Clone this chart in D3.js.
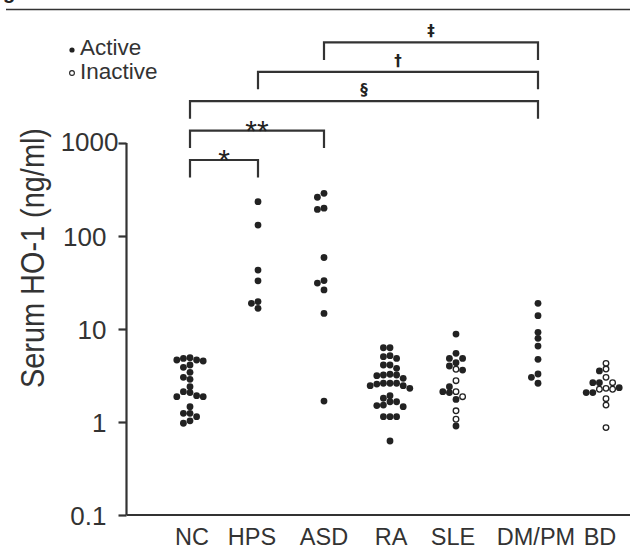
<!DOCTYPE html>
<html>
<head>
<meta charset="utf-8">
<script src="https://cdn.jsdelivr.net/npm/d3@7"></script>
<style>
  body { margin: 0; background: #fff; }
  svg { display: block; font-family: "Liberation Sans", Arial, sans-serif; }
  .axis path, .axis line { stroke: #333; stroke-width: 2.2; }
  .axis text { fill: #333; }
</style>
</head>
<body>
<div id="chart"></div>
<script>
//begin: data
var groups = ["NC", "HPS", "ASD", "RA", "SLE", "DM/PM", "BD"];
var yTicks = [0.1, 1, 10, 100, 1000];

var ncActive = [4.91, 4.83, 4.64, 4.64, 4.53, 4.10, 3.87, 3.42, 3.02, 2.88, 2.40, 2.12, 2.07, 1.92, 1.87, 1.87, 1.46, 1.24, 1.24, 1.14, 1.03, 0.97];
var hpsActive = [234, 131, 43, 33, 19.7, 18.9, 16.7];
var asdActive = [288, 261, 199, 193, 58.7, 33.2, 31.2, 26.3, 14.7, 1.68];
var raActive = [6.29, 6.29, 5.16, 5.04, 4.83, 4.10, 4.10, 3.78, 3.26, 3.20, 3.20, 3.15, 2.95, 2.61, 2.61, 2.61, 2.56, 2.46, 2.46, 2.30, 1.92, 1.80, 1.65, 1.65, 1.52, 1.50, 1.46, 1.14, 1.14, 1.14, 0.625];
var sleActive = [8.83, 5.47, 4.83, 4.83, 4.34, 4.0, 3.62, 2.40, 2.12, 2.07, 1.75, 0.906];
var sleInactive = [3.69, 2.78, 2.12, 1.87, 1.32, 1.07];
var dmpmActive = [18.9, 13.9, 9.2, 7.94, 6.56, 4.72, 3.28, 3.02, 2.61];
var bdActive = [3.54, 2.65, 2.65, 2.34, 2.07, 2.07];
var bdInactive = [4.27, 3.71, 3.02, 2.65, 2.30, 2.25, 2.25, 1.78, 1.52, 0.87];

var comparisons = [
  ["NC", "HPS", "*"],
  ["NC", "ASD", "**"],
  ["NC", "DM/PM", "\u00a7"],
  ["HPS", "DM/PM", "\u2020"],
  ["ASD", "DM/PM", "\u2021"]
];
//end: data

//begin: layout conf.
var width = 630, height = 548;
var axisX = 126.5, baseY = 515, topY = 143;
var dotR = 3.4, step = 6.6, minD = 5.6;
var groupCenters = [190, 258, 324, 390, 456, 538, 606];
var labelCenters = [192, 252, 324, 391, 453, 536, 600];
var bracketTop = 160, bracketGap = 29.4, bracketDrop = 17.5;
//end: layout conf.

var samples = [
  { group: "NC", active: ncActive, inactive: [] },
  { group: "HPS", active: hpsActive, inactive: [] },
  { group: "ASD", active: asdActive, inactive: [] },
  { group: "RA", active: raActive, inactive: [] },
  { group: "SLE", active: sleActive, inactive: sleInactive },
  { group: "DM/PM", active: dmpmActive, inactive: [] },
  { group: "BD", active: bdActive, inactive: bdInactive }
];

var x = d3.scaleOrdinal().domain(groups).range(groupCenters);
var xLabel = d3.scaleOrdinal().domain(groups).range(labelCenters);
var y = d3.scaleLog().domain([0.1, 1000]).range([baseY, topY]);

var svg = d3.select("#chart").append("svg")
  .attr("width", width)
  .attr("height", height);

svg.append("rect").attr("width", width).attr("height", height).attr("fill", "#fff");

// cropped figure header
svg.append("text")
  .attr("x", 3).attr("y", -1)
  .style("font-size", "20px").style("font-weight", "bold")
  .attr("fill", "#222")
  .text("g");
svg.append("line")
  .attr("x1", 6).attr("x2", width)
  .attr("y1", 9.5).attr("y2", 9.5)
  .attr("stroke", "#333").attr("stroke-width", 1.6);

// legend
var legend = svg.append("g").attr("fill", "#333");
legend.append("circle").attr("cx", 72).attr("cy", 50).attr("r", 2.6).attr("fill", "#222");
legend.append("text").attr("x", 80).attr("y", 55).style("font-size", "22.5px").text("Active");
legend.append("circle").attr("cx", 72).attr("cy", 73).attr("r", 2.4)
  .attr("fill", "#fff").attr("stroke", "#222").attr("stroke-width", 1.1);
legend.append("text").attr("x", 80).attr("y", 79).style("font-size", "22.5px").text("Inactive");

// y axis
var yAxis = svg.append("g")
  .attr("class", "axis")
  .attr("transform", "translate(" + axisX + ",0)")
  .call(d3.axisLeft(y).tickValues(yTicks).tickSize(8).tickPadding(12)
    .tickFormat(function (d) { return String(d); }));
yAxis.select(".domain").attr("d", "M0," + topY + "V" + baseY);
yAxis.selectAll("text").style("font-size", "26px").attr("dy", "0.36em");
yAxis.selectAll(".tick").filter(function (d) { return d === 1000; })
  .select("text").attr("x", -8).attr("dy", "0.28em");

// x axis
var xAxis = svg.append("g")
  .attr("class", "axis")
  .attr("transform", "translate(0," + baseY + ")");
xAxis.append("line")
  .attr("x1", axisX).attr("x2", width)
  .attr("stroke", "#333").attr("stroke-width", 2.2);
xAxis.selectAll("text.cat")
  .data(groups)
  .enter().append("text")
  .attr("class", "cat")
  .attr("x", function (d) { return xLabel(d); })
  .attr("y", 30)
  .attr("text-anchor", "middle")
  .style("font-size", "23.5px")
  .text(function (d) { return d; });

// y title
svg.append("text")
  .attr("transform", "translate(44,258) rotate(-90)")
  .attr("text-anchor", "middle")
  .attr("fill", "#333")
  .attr("textLength", 260)
  .attr("lengthAdjust", "spacingAndGlyphs")
  .style("font-size", "34px")
  .text("Serum HO-1 (ng/ml)");

// beeswarm
function dodge(list) {
  var placed = [];
  var prefer = { inactive: [0, 1, -1, 2, -2, 3, -3, 4, -4, 5, -5],
                 active: [0, -1, 1, -2, 2, -3, 3, -4, 4, -5, 5] };
  list.forEach(function (p) {
    var py = y(p.value);
    var ks = prefer[p.status];
    for (var i = 0; i < ks.length; i++) {
      var px = ks[i] * step;
      var free = placed.every(function (q) {
        return (q.dx - px) * (q.dx - px) + (q.y - py) * (q.y - py) >= minD * minD;
      });
      if (free || i === ks.length - 1) {
        placed.push({ group: p.group, status: p.status, value: p.value, dx: px, y: py });
        break;
      }
    }
  });
  return placed;
}

var dots = [];
samples.forEach(function (s) {
  var inact = s.inactive.map(function (v) { return { group: s.group, status: "inactive", value: v }; })
    .sort(function (a, b) { return b.value - a.value; });
  var act = s.active.map(function (v) { return { group: s.group, status: "active", value: v }; })
    .sort(function (a, b) { return b.value - a.value; });
  dots = dots.concat(dodge(inact.concat(act)));
});

svg.append("g")
  .selectAll("circle.dot")
  .data(dots)
  .enter().append("circle")
  .attr("class", "dot")
  .attr("cx", function (d) { return x(d.group) + d.dx; })
  .attr("cy", function (d) { return d.y; })
  .attr("r", function (d) { return d.status === "active" ? dotR : dotR - 0.6; })
  .attr("fill", function (d) { return d.status === "active" ? "#222" : "#fff"; })
  .attr("stroke", "#222")
  .attr("stroke-width", function (d) { return d.status === "active" ? 0 : 1.3; });

// significance brackets
var brackets = svg.append("g")
  .selectAll("g.bracket")
  .data(comparisons)
  .enter().append("g")
  .attr("class", "bracket");

brackets.append("path")
  .attr("fill", "none")
  .attr("stroke", "#333")
  .attr("stroke-width", 2.2)
  .attr("d", function (d, i) {
    var yb = bracketTop - i * bracketGap;
    return "M" + x(d[0]) + "," + (yb + bracketDrop) + "V" + yb + "H" + x(d[1]) + "V" + (yb + bracketDrop);
  });

brackets.append("text")
  .attr("text-anchor", "middle")
  .attr("fill", "#222")
  .attr("x", function (d) { return (x(d[0]) + x(d[1])) / 2; })
  .attr("y", function (d, i) {
    var yb = bracketTop - i * bracketGap;
    return d[2].indexOf("*") >= 0 ? yb + 10 : yb - 6;
  })
  .style("font-family", function (d) { return d[2].indexOf("*") >= 0 ? null : "'DejaVu Sans', sans-serif"; })
  .style("font-weight", function (d) { return d[2].indexOf("*") >= 0 ? null : "bold"; })
  .style("font-size", function (d) { return d[2].indexOf("*") >= 0 ? "30px" : "15px"; })
  .text(function (d) { return d[2]; });
</script>
</body>
</html>
